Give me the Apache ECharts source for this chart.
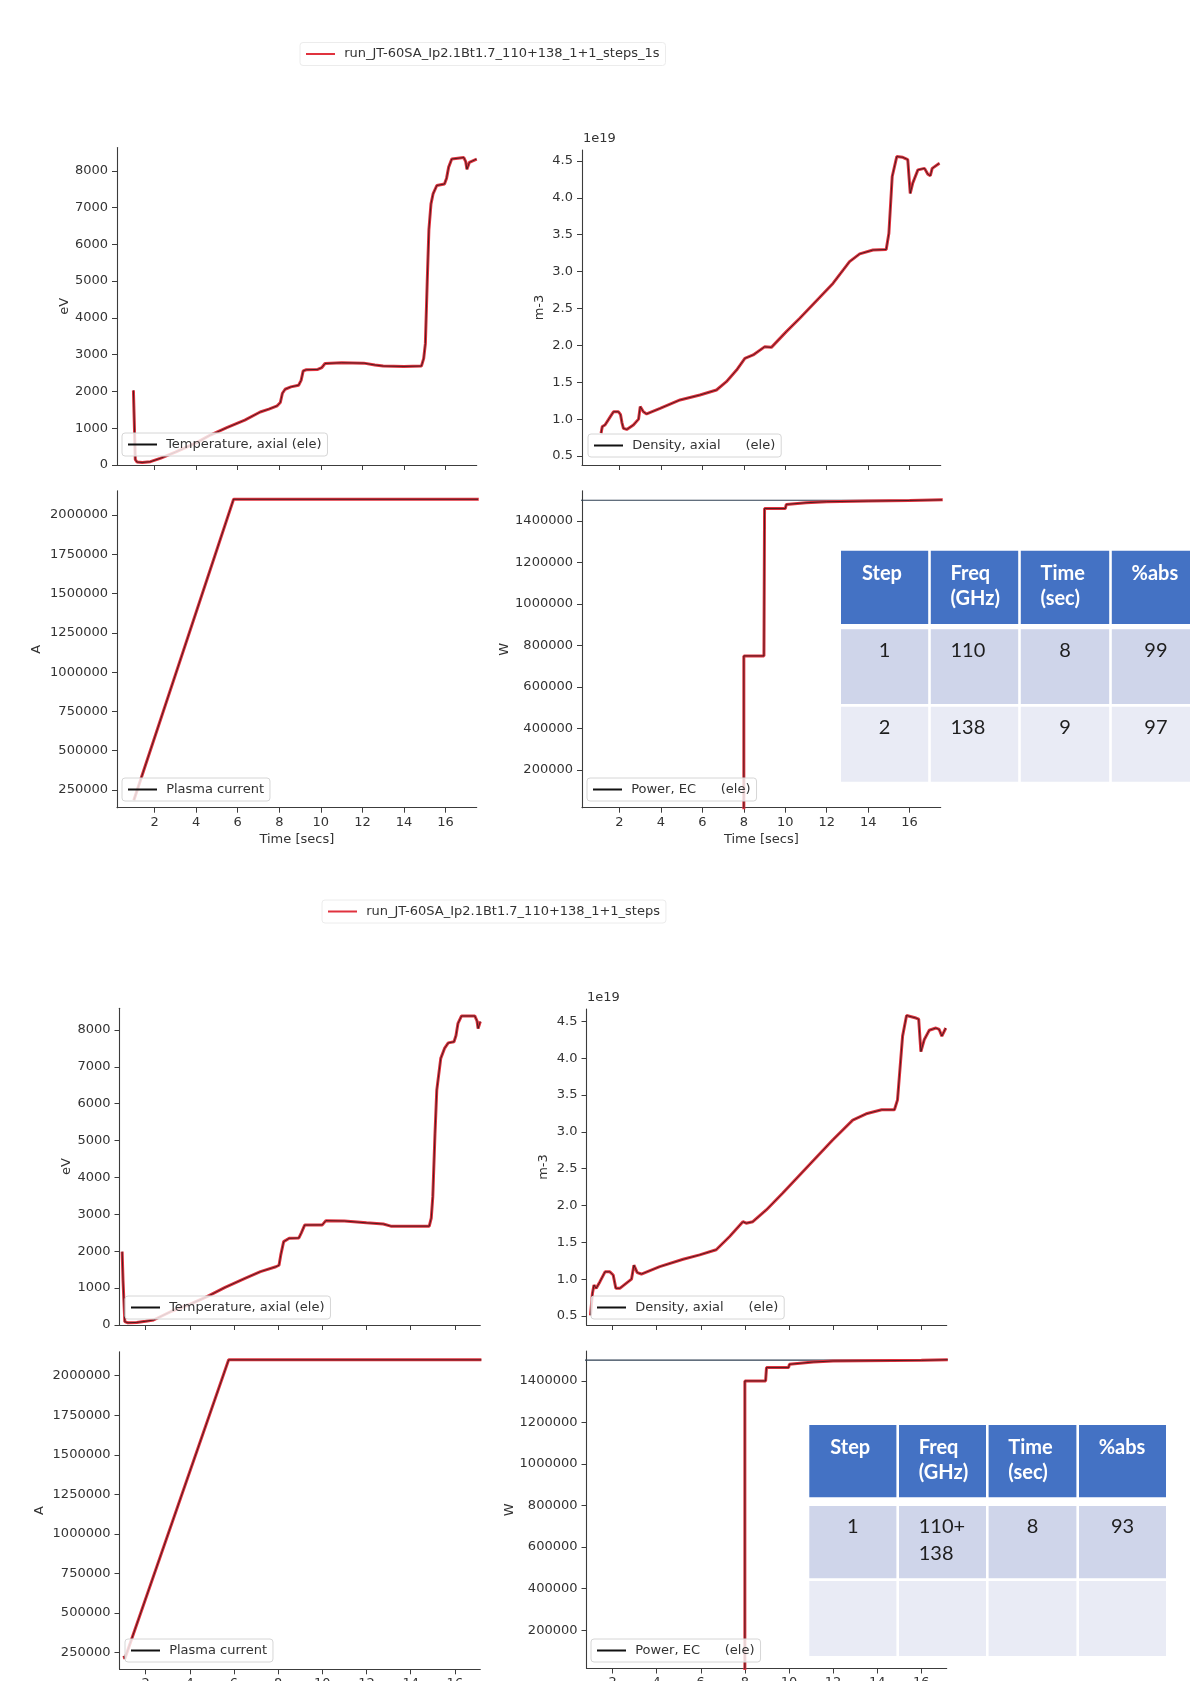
<!DOCTYPE html>
<html>
<head>
<meta charset="utf-8">
<script src="https://cdn.jsdelivr.net/npm/echarts@6/dist/echarts.min.js"></script>
<style>
  html, body { margin: 0; padding: 0; background: #ffffff; }
  #chart { width: 1190px; height: 1681px; }
</style>
</head>
<body>
<div id="chart"></div>
<script>
// ---------------------------------------------------------------
// JT-60SA EC heating scenarios: 110 GHz then 138 GHz one second apart
// (upper figure) and both frequencies switched on together (lower figure).
// Each trace: [time in s, value]
// ---------------------------------------------------------------
const runNameA = 'run_JT-60SA_Ip2.1Bt1.7_110+138_1+1_steps_1s';
const runNameB = 'run_JT-60SA_Ip2.1Bt1.7_110+138_1+1_steps';

// Axial electron temperature [eV]
const tempA = [
  [0.98, 2030], [1.02, 1200], [1.07, 150], [1.15, 80], [1.4, 70], [1.8, 90], [2.27, 180],
  [3.0, 350], [4.0, 600], [4.68, 814], [5.5, 1020], [6.34, 1220], [7.08, 1440], [7.5, 1520],
  [7.9, 1610], [8.05, 1700], [8.15, 1950], [8.28, 2060], [8.56, 2125], [8.93, 2170],
  [9.05, 2300], [9.15, 2560], [9.3, 2590], [9.85, 2600], [10.05, 2650], [10.2, 2760],
  [11.0, 2780], [12.07, 2770], [12.6, 2720], [13.0, 2690], [14.0, 2680], [14.84, 2690],
  [14.95, 2900], [15.03, 3300], [15.12, 5000], [15.2, 6400], [15.3, 7100], [15.4, 7370],
  [15.58, 7600], [15.95, 7640], [16.05, 7800], [16.15, 8100], [16.3, 8320], [16.88, 8360],
  [16.97, 8250], [17.03, 8040], [17.15, 8230], [17.5, 8320]
];
const tempB = [
  [0.94, 1990], [0.98, 1200], [1.06, 90], [1.2, 60], [1.6, 70], [2.0, 100], [2.36, 136],
  [3.2, 380], [4.0, 560], [4.78, 768], [5.6, 1020], [6.5, 1265], [7.2, 1447], [7.9, 1580],
  [8.04, 1620], [8.12, 1900], [8.25, 2260], [8.5, 2350], [8.94, 2360], [9.05, 2500],
  [9.2, 2710], [10.0, 2715], [10.16, 2830], [11.0, 2820], [12.0, 2770], [12.76, 2740],
  [13.1, 2680], [14.84, 2680], [14.93, 2900], [15.0, 3480], [15.1, 5200], [15.18, 6370],
  [15.36, 7230], [15.53, 7500], [15.7, 7650], [15.96, 7680], [16.05, 7850], [16.14, 8180],
  [16.3, 8380], [16.9, 8380], [17.0, 8250], [17.05, 8040], [17.15, 8230]
];

// Axial electron density [1e19 m-3]
const densA = [
  [1.11, 0.81], [1.17, 0.9], [1.23, 0.875], [1.3, 0.92], [1.39, 0.93], [1.55, 1.03],
  [1.71, 1.10], [1.95, 1.10], [2.05, 1.06], [2.12, 0.95], [2.19, 0.875], [2.35, 0.86],
  [2.67, 0.92], [2.92, 1.0], [3.0, 1.17], [3.15, 1.10], [3.31, 1.07], [3.96, 1.146],
  [4.92, 1.26], [5.88, 1.327], [6.68, 1.395], [7.16, 1.508], [7.65, 1.666], [8.05, 1.824],
  [8.45, 1.87], [9.0, 1.98], [9.33, 1.973], [10.05, 2.186], [10.7, 2.367], [12.3, 2.84],
  [13.1, 3.135], [13.59, 3.24], [14.23, 3.293], [14.87, 3.30], [15.0, 3.52], [15.16, 4.29],
  [15.38, 4.56], [15.67, 4.55], [15.91, 4.52], [16.03, 4.06], [16.15, 4.20], [16.4, 4.38],
  [16.72, 4.40], [16.88, 4.32], [17.0, 4.30], [17.09, 4.40], [17.44, 4.47]
];
const densB = [
  [1.0, 0.51], [1.09, 0.81], [1.16, 0.92], [1.26, 0.876], [1.43, 0.966], [1.66, 1.10],
  [1.88, 1.10], [2.03, 1.057], [2.15, 0.876], [2.33, 0.876], [2.86, 1.0], [2.97, 1.19],
  [3.12, 1.09], [3.31, 1.07], [4.14, 1.17], [5.2, 1.27], [5.95, 1.33], [6.7, 1.40],
  [7.31, 1.58], [7.91, 1.78], [8.06, 1.76], [8.36, 1.78], [8.97, 1.94], [9.72, 2.17],
  [11.98, 2.89], [12.89, 3.16], [13.5, 3.245], [14.2, 3.30], [14.78, 3.30], [14.92, 3.435],
  [15.15, 4.30], [15.33, 4.58], [15.76, 4.545], [15.88, 4.53], [15.98, 4.09], [16.13, 4.25],
  [16.36, 4.38], [16.66, 4.41], [16.81, 4.39], [16.93, 4.30], [17.11, 4.41]
];

// Plasma current [A]
const ipA = [[1.0, 185000], [5.8, 2100000], [17.6, 2100000]];
const ipB = [[1.02, 230000], [1.06, 212000], [5.76, 2100000], [17.2, 2100000]];

// Absorbed EC power [W] and the injected 1.5 MW level
const powA = [
  [8.0, 0], [8.0, 750000], [8.97, 750000], [9.0, 1460000], [10.0, 1460000], [10.05, 1480000],
  [11.0, 1488000], [12.0, 1493000], [14.0, 1496000], [16.0, 1499000], [17.6, 1502000]
];
const powB = [
  [8.0, 0], [8.0, 1400000], [8.94, 1400000], [8.98, 1464000], [9.98, 1464000], [10.02, 1480000],
  [11.1, 1491000], [12.0, 1496000], [16.0, 1499000], [17.2, 1502000]
];
const powInjA = [[0, 1500000], [16.1, 1500000]];
const powInjB = [[0, 1500000], [16.0, 1500000]];

// Tick values
const timeTicks = [2, 4, 6, 8, 10, 12, 14, 16];
const tempTicks = [0, 1000, 2000, 3000, 4000, 5000, 6000, 7000, 8000];
const densTicks = [0.5, 1.0, 1.5, 2.0, 2.5, 3.0, 3.5, 4.0, 4.5];
const ipTicks = [250000, 500000, 750000, 1000000, 1250000, 1500000, 1750000, 2000000];
const powTicks = [200000, 400000, 600000, 800000, 1000000, 1200000, 1400000];

// Step tables
const tableHead = ['Step', 'Freq\n(GHz)', 'Time\n(sec)', '%abs'];
const tableRowsA = [['1', '110', '8', '99'], ['2', '138', '9', '97']];
const tableRowsB = [['1', '110+\n138', '8', '93'], ['', '', '', '']];

// ---------------------------------------------------------------
const FONT = 'DejaVu Sans';
const TEXT = '#333333';
const SPINE = '#3c3c3c';
const RED = '#e0323e';
const BLACK = 'rgba(20,20,20,0.8)';

// plot areas: [left, top, right, bottom] in px
const boxes = [
  [117, 147.5, 476.7, 465],     // temperature, upper
  [582, 150, 940.7, 465],       // density, upper
  [117, 490.7, 476.7, 807.7],   // current, upper
  [582, 490.7, 940.7, 807.7],   // power, upper
  [119.5, 1008.3, 480.3, 1325], // temperature, lower
  [586.5, 1009, 946.7, 1325],   // density, lower
  [119.5, 1351.7, 480.3, 1669.3], // current, lower
  [586.5, 1351, 946.7, 1668.5]  // power, lower
];
const timeRangeA = [0.19, 17.5];
const timeRangeB = [0.82, 17.15];

const grids = boxes.map(b => ({
  left: b[0], top: b[1], width: b[2] - b[0], height: b[3] - b[1],
  containLabel: false, outerBoundsMode: 'none'
}));

const txt = (size) => ({ fontFamily: FONT, fontSize: size || 13, color: TEXT });

function xAxisFor(g, range, bottomRow) {
  return {
    type: 'value', gridIndex: g, min: range[0], max: range[1],
    axisLine: { show: true, onZero: false, lineStyle: { color: SPINE, width: 1.1 } },
    axisTick: { show: true, inside: false, length: 5, customValues: timeTicks,
                lineStyle: { color: SPINE, width: 1 } },
    axisLabel: Object.assign({ show: bottomRow, customValues: timeTicks, margin: 8,
                               formatter: v => String(v) }, txt()),
    splitLine: { show: false },
    name: bottomRow ? 'Time [secs]' : '',
    nameLocation: 'middle', nameGap: 25, nameTextStyle: txt()
  };
}

function yAxisFor(g, range, ticks, name, gap, fmt) {
  return {
    type: 'value', gridIndex: g, min: range[0], max: range[1],
    axisLine: { show: true, onZero: false, lineStyle: { color: SPINE, width: 1.1 } },
    axisTick: { show: true, inside: false, length: 5, customValues: ticks,
                lineStyle: { color: SPINE, width: 1 } },
    axisLabel: Object.assign({ show: true, customValues: ticks, margin: 9,
                               formatter: fmt || (v => String(v)) }, txt()),
    splitLine: { show: false },
    name: name, nameLocation: 'middle', nameRotate: 90, nameGap: gap,
    nameTextStyle: txt()
  };
}
const densFmt = v => v.toFixed(1);

const xAxes = [
  xAxisFor(0, timeRangeA, false), xAxisFor(1, timeRangeA, false),
  xAxisFor(2, timeRangeA, true), xAxisFor(3, timeRangeA, true),
  xAxisFor(4, timeRangeB, false), xAxisFor(5, timeRangeB, false),
  xAxisFor(6, timeRangeB, true), xAxisFor(7, timeRangeB, true)
];
const yAxes = [
  yAxisFor(0, [0, 8633], tempTicks, 'eV', 46),
  yAxisFor(1, [0.378, 4.649], densTicks, 'm-3', 36, densFmt),
  yAxisFor(2, [137400, 2154600], ipTicks, 'A', 74),
  yAxisFor(3, [18500, 1546000], powTicks, 'W', 66),
  yAxisFor(4, [0, 8588], tempTicks, 'eV', 46),
  yAxisFor(5, [0.378, 4.668], densTicks, 'm-3', 36, densFmt),
  yAxisFor(6, [145000, 2151600], ipTicks, 'A', 73),
  yAxisFor(7, [15700, 1544000], powTicks, 'W', 70)
];

const panelNames = ['Temperature, axial (ele)', 'Density, axial      (ele)',
                    'Plasma current', 'Power, EC      (ele)'];

function trace(name, idx, data, color, width, z) {
  return {
    name: name, type: 'line', xAxisIndex: idx, yAxisIndex: idx, data: data,
    showSymbol: false, symbol: 'none', clip: true, z: z,
    lineStyle: { color: color, width: width }, itemStyle: { color: color },
    emphasis: { disabled: true }, silent: true
  };
}

const upper = [tempA, densA, ipA, powA];
const lower = [tempB, densB, ipB, powB];
const series = [];
upper.forEach((d, i) => {
  series.push(trace(runNameA, i, d, RED, 3, 2));
  series.push(trace(panelNames[i], i, d, BLACK, 0.9, 3));
});
lower.forEach((d, i) => {
  series.push(trace(runNameB, i + 4, d, RED, 3, 2));
  series.push(trace(panelNames[i], i + 4, d, BLACK, 0.9, 3));
});
series.push(trace('EC injected A', 3, powInjA, '#2e3f52', 1.2, 1));
series.push(trace('EC injected B', 7, powInjB, '#2e3f52', 1.2, 1));

function legendAt(name, left, top, border, iconColor) {
  return {
    data: [name], left: left, top: top, orient: 'horizontal',
    icon: 'rect', itemWidth: 29, itemHeight: 2,
    itemStyle: { borderWidth: 0, color: iconColor || '#111111' },
    padding: [4, 6, 4, 6],
    backgroundColor: 'rgba(255,255,255,0.8)',
    borderColor: border || '#d6d6d6', borderWidth: 1, borderRadius: 3,
    selectedMode: false,
    formatter: n => ' ' + n,
    textStyle: Object.assign({ lineHeight: 15 }, txt())
  };
}

const legends = [
  legendAt(runNameA, 300, 42.5, '#ececec', RED),
  legendAt(runNameB, 322, 900, '#ececec', RED),
  legendAt(panelNames[0], 122, 433),
  legendAt(panelNames[1], 588, 434),
  legendAt(panelNames[2], 122, 778),
  legendAt(panelNames[3], 587, 778),
  legendAt(panelNames[0], 125, 1296),
  legendAt(panelNames[1], 591, 1296),
  legendAt(panelNames[2], 125, 1639),
  legendAt(panelNames[3], 591, 1639)
];

// ---- tables drawn as graphic elements ----
const HEAD_FILL = '#4472C4';
const ROW_FILLS = ['#CFD5EA', '#E9EBF5'];
const BODY_ALIGN = ['center', 'left', 'center', 'center'];

function textEl(str, x, y, align, font, fill) {
  return {
    type: 'text', x: x, y: y, z: 101, silent: true,
    style: { text: str, font: font, fill: fill,
             align: align, verticalAlign: 'middle',
             textAlign: align, textVerticalAlign: 'middle' }
  };
}

function buildTable(cols, rows, head, body) {
  const els = [];
  const gap = 1.3;
  const all = [head].concat(body);
  all.forEach((row, r) => {
    const y0 = rows[r][0], y1 = rows[r][1];
    const isHead = r === 0;
    for (let c = 0; c < 4; c++) {
      const x0 = cols[c] + (c > 0 ? gap : 0);
      const x1 = cols[c + 1] - (c < 3 ? gap : 0);
      els.push({
        type: 'rect', z: 100, silent: true,
        shape: { x: x0, y: y0, width: x1 - x0, height: y1 - y0 },
        style: { fill: isHead ? HEAD_FILL : ROW_FILLS[(r - 1) % 2] }
      });
      const lines = String(row[c]).split('\n');
      const align = isHead ? 'left' : BODY_ALIGN[c];
      const tx = align === 'left' ? cols[c] + 21 : (x0 + x1) / 2;
      const firstY = y0 + (isHead ? 22.5 : 21);
      const step = isHead ? 25 : 26.5;
      lines.forEach((ln, k) => {
        if (!ln) return;
        els.push(textEl(ln, tx, firstY + k * step, align,
          isHead ? 'bold 20px Lato' : '20px Lato',
          isHead ? '#ffffff' : '#1e1e1e'));
      });
    }
  });
  return els;
}

const graphicEls = []
  .concat(buildTable([841, 929.5, 1019.5, 1110.5, 1200],
                     [[550.7, 624], [629.3, 704], [706.7, 781.7]], tableHead, tableRowsA))
  .concat(buildTable([809.3, 897.7, 987.3, 1077.7, 1166],
                     [[1425, 1497.3], [1506, 1578.3], [1581, 1656]], tableHead, tableRowsB));

// scale multiplier shown above the density axes
graphicEls.push({
  type: 'text', x: 583, y: 139, z: 50, silent: true,
  style: { text: '1e19', font: '13px "DejaVu Sans"', fill: TEXT,
           align: 'left', verticalAlign: 'middle', textAlign: 'left', textVerticalAlign: 'middle' }
});
graphicEls.push({
  type: 'text', x: 587, y: 998, z: 50, silent: true,
  style: { text: '1e19', font: '13px "DejaVu Sans"', fill: TEXT,
           align: 'left', verticalAlign: 'middle', textAlign: 'left', textVerticalAlign: 'middle' }
});

const chart = echarts.init(document.getElementById('chart'), null, { renderer: 'canvas' });
chart.setOption({
  animation: false,
  backgroundColor: '#ffffff',
  textStyle: { fontFamily: FONT },
  grid: grids,
  xAxis: xAxes,
  yAxis: yAxes,
  legend: legends,
  series: series,
  graphic: { elements: graphicEls }
});
</script>
</body>
</html>
